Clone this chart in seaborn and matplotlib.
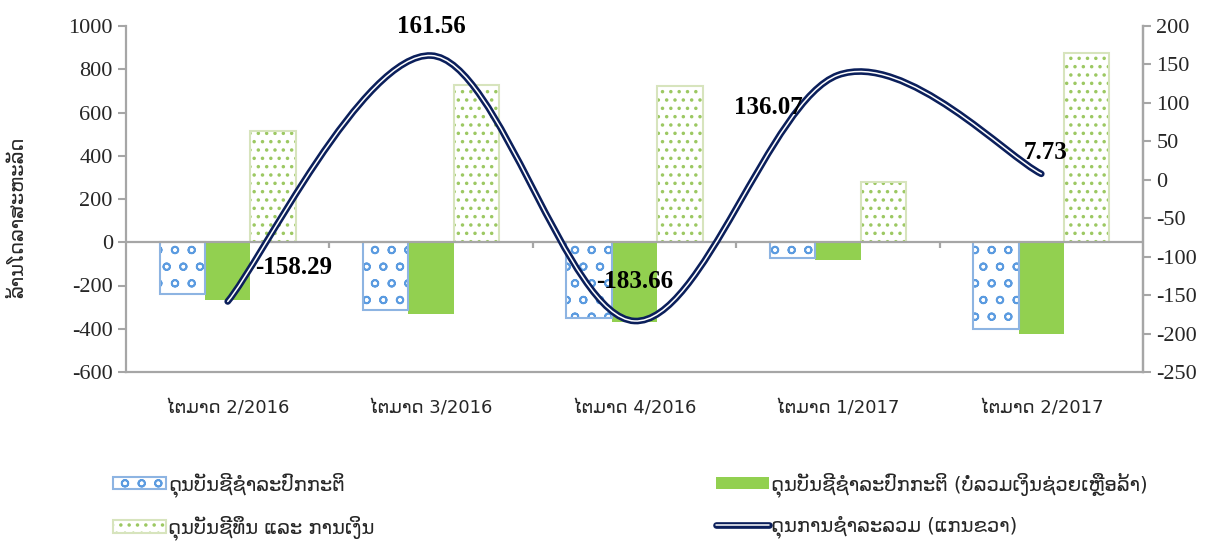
import numpy as np
import pandas as pd
import matplotlib
matplotlib.use("Agg")
import matplotlib.pyplot as plt
import seaborn as sns
from matplotlib.path import Path
from matplotlib.patches import PathPatch, Patch, Rectangle
from matplotlib.lines import Line2D

# data
quarters = ["ໄຕມາດ 2/2016", "ໄຕມາດ 3/2016", "ໄຕມາດ 4/2016", "ໄຕມາດ 1/2017", "ໄຕມາດ 2/2017"]
series_names = [
    "ດຸນບັນຊີຊຳລະປົກກະຕິ",
    "ດຸນບັນຊີຊຳລະປົກກະຕິ (ບໍ່ລວມເງິນຊ່ວຍເຫຼືອລ້າ)",
    "ດຸນບັນຊີທຶນ ແລະ ການເງິນ",
]
line_name = "ດຸນການຊຳລະລວມ (ແກນຂວາ)"
current_account = [-237, -314, -350, -71, -402]
current_no_grants = [-265, -334, -371, -80, -422]
capital_financial = [514, 726, 723, 279, 875]
overall_balance = [-158.29, 161.56, -183.66, 136.07, 7.73]
y_label = "ລ້ານໂດລາສະຫະລັດ"

df = pd.DataFrame({
    "quarter": quarters * 3,
    "series": [series_names[0]] * 5 + [series_names[1]] * 5 + [series_names[2]] * 5,
    "value": current_account + current_no_grants + capital_financial,
})

lao = ["DejaVu Sans"]
serif = ["Liberation Serif", "DejaVu Serif"]
navy = "#0B1F5B"
grey = "#A6A6A6"
blue_edge, blue_dots = "#8DB4E2", "#5B9BE0"
green_edge, green_dots = "#D7E4BD", "#9CC862"

sns.set_style("white")
plt.rcParams["hatch.linewidth"] = 1.3
plt.rcParams["axes.unicode_minus"] = False

fig = plt.figure(figsize=(12.11, 5.41), dpi=100)
ax = fig.add_axes([126 / 1211, 1 - 372 / 541, 1017 / 1211, 346 / 541])

sns.barplot(data=df, x="quarter", y="value", hue="series", order=quarters,
            hue_order=series_names, width=0.67, ax=ax, legend=False,
            palette=["white", "#92D050", "white"], saturation=1, errorbar=None)

# style the bars of each series
for k, cont in enumerate(ax.containers):
    for p in cont.patches:
        if k == 1:
            p.set_edgecolor("none")
            p.set_linewidth(0)
            continue
        border = blue_edge if k == 0 else green_edge
        p.set_edgecolor(blue_dots if k == 0 else green_dots)
        p.set_linewidth(0)
        p.set_hatch("o" if k == 0 else "..")
        ax.add_patch(Rectangle(p.get_xy(), p.get_width(), p.get_height(),
                               fill=False, edgecolor=border, linewidth=1.5, zorder=p.get_zorder() + 0.1))

ax.set_xlim(-0.5, 4.5)
ax.set_ylim(-600, 1000)
ax.set_yticks(np.arange(-600, 1001, 200))
ax.set_xlabel("")
ax.set_ylabel("")
ax.axhline(0, color=grey, lw=1.6, zorder=3)
ax.vlines(np.arange(0.5, 4.5, 1), -25, 0, color=grey, lw=1.6, zorder=3)
ax.set_xticks(range(5))
ax.set_xticklabels(quarters, family=lao, fontsize=13)
ax.tick_params(axis="x", length=0, pad=20)
ax.tick_params(axis="y", length=6, width=1.5, color=grey, direction="out", left=True, labelsize=16)
for lab in ax.get_yticklabels():
    lab.set_family(serif)
for s in ["left", "bottom", "right"]:
    ax.spines[s].set_color(grey)
    ax.spines[s].set_linewidth(1.6)
ax.spines["top"].set_visible(False)

# right axis: smoothed line
ax2 = ax.twinx()
ax2.set_ylim(-250, 200)
ax2.set_yticks(np.arange(-250, 201, 50))
ax2.tick_params(axis="y", length=6, width=1.5, color=grey, direction="out", right=True, labelsize=16)
for lab in ax2.get_yticklabels():
    lab.set_family(serif)
for s in ["left", "bottom", "top"]:
    ax2.spines[s].set_visible(False)
ax2.spines["right"].set_color(grey)
ax2.spines["right"].set_linewidth(1.6)

pts = np.column_stack([np.arange(len(overall_balance)), overall_balance])
ext = np.vstack([pts[0], pts, pts[-1]])
verts = [tuple(pts[0])]
codes = [Path.MOVETO]
for i in range(len(pts) - 1):
    c1 = ext[i + 1] + (ext[i + 2] - ext[i]) / 6
    c2 = ext[i + 2] - (ext[i + 3] - ext[i + 1]) / 6
    verts += [tuple(c1), tuple(c2), tuple(pts[i + 1])]
    codes += [Path.CURVE4] * 3
curve = Path(verts, codes)
ax2.add_patch(PathPatch(curve, fill=False, edgecolor=navy, lw=4.8, capstyle="round", zorder=5))
ax2.add_patch(PathPatch(curve, fill=False, edgecolor="white", lw=1.1, capstyle="round", zorder=6))

label_offsets = [(66, 34), (0, 29), (0, 39), (-70, -32), (4, 21)]
for i, v in enumerate(overall_balance):
    ax2.annotate(f"{v:.2f}", (i, v), xytext=label_offsets[i], textcoords="offset pixels",
                 ha="center", va="center", fontsize=18, fontweight="bold", family=serif,
                 color="black", zorder=7)

fig.text(18 / 1211, 1 - 217 / 541, y_label, rotation=90, ha="center", va="center",
         family=lao, fontsize=14)

# legends
h_blue = (Patch(facecolor="white", edgecolor=blue_dots, hatch="o", linewidth=0),
          Patch(fill=False, edgecolor=blue_edge, linewidth=1.5))
h_green = Patch(facecolor="#92D050", edgecolor="none")
h_spot = (Patch(facecolor="white", edgecolor=green_dots, hatch="..", linewidth=0),
          Patch(fill=False, edgecolor=green_edge, linewidth=1.5))
h_line = (Line2D([], [], color=navy, lw=4.8), Line2D([], [], color="white", lw=1.1))
common = dict(loc="upper left", frameon=False, borderpad=0, borderaxespad=0,
              handlelength=2.7, handleheight=0.6, handletextpad=0.15, labelspacing=0.95,
              prop={"family": lao, "size": 14})
fig.legend([h_blue, h_spot], [series_names[0], series_names[2]],
           bbox_to_anchor=(113 / 1211, 1 - 472 / 541), **common)
fig.legend([h_green, h_line], [series_names[1], line_name],
           bbox_to_anchor=(716 / 1211, 1 - 472 / 541), **common)

fig.savefig("out.png", dpi=100)
